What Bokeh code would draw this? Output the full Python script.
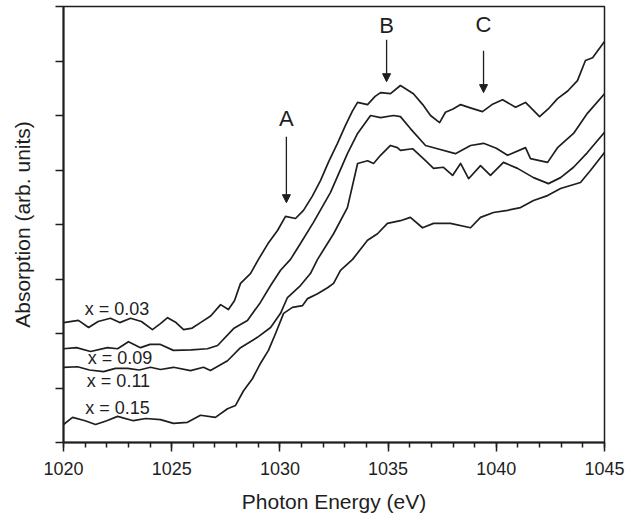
from bokeh.plotting import figure
from bokeh.models import Range1d, FixedTicker, Arrow, NormalHead, Label
from bokeh.embed import file_html
from bokeh.resources import INLINE

# ---- data (photon energy in eV, absorption in arb. units) ----
energy_003 = [1020.00, 1020.69, 1021.16, 1021.60, 1022.17, 1022.60, 1023.10, 1023.60, 1024.11, 1024.48,
              1024.81, 1025.20, 1025.55, 1025.95, 1026.33, 1026.80, 1027.26, 1027.62, 1027.90, 1028.18,
              1028.64, 1029.01, 1029.45, 1029.89, 1030.26, 1030.72, 1031.09, 1031.50, 1031.88, 1032.25,
              1032.66, 1033.03, 1033.35, 1033.59, 1034.05, 1034.40, 1034.65, 1035.11, 1035.57, 1036.17, 1036.60,
              1036.96, 1037.38, 1037.65, 1038.00, 1038.35, 1038.80, 1039.36, 1039.80, 1040.29, 1040.89,
              1041.35, 1042.00, 1042.40, 1042.83, 1043.30, 1043.75, 1044.12, 1044.45, 1045.00]
absorb_003 = [2.20, 2.24, 2.11, 2.22, 2.28, 2.20, 2.28, 2.22, 2.07, 2.18,
              2.29, 2.20, 2.07, 2.10, 2.20, 2.32, 2.53, 2.44, 2.60, 2.92,
              3.10, 3.36, 3.65, 3.89, 4.15, 4.11, 4.26, 4.52, 4.81, 5.15,
              5.49, 5.82, 6.08, 6.24, 6.20, 6.35, 6.42, 6.40, 6.55, 6.40, 6.20,
              6.00, 5.87, 6.06, 6.12, 6.20, 6.14, 6.07, 6.20, 6.29, 6.15,
              6.24, 5.98, 6.12, 6.31, 6.45, 6.64, 7.01, 7.06, 7.36]

energy_009 = [1020.00, 1020.60, 1021.25, 1022.03, 1022.50, 1023.00, 1023.56, 1024.00, 1024.48, 1025.08,
              1025.90, 1026.65, 1027.12, 1027.86, 1028.50, 1029.10, 1029.57, 1030.03, 1030.49, 1030.95,
              1031.55, 1032.34, 1033.12, 1033.59, 1034.19, 1034.65, 1035.25, 1035.57, 1036.03, 1036.73,
              1037.28, 1038.11, 1038.81, 1039.41, 1040.00, 1040.52, 1041.35, 1041.58, 1042.37, 1042.83,
              1043.57, 1044.21, 1045.00]
absorb_009 = [1.72, 1.74, 1.67, 1.74, 1.72, 1.85, 1.74, 1.80, 1.80, 1.69,
              1.70, 1.72, 1.78, 2.09, 2.24, 2.57, 2.88, 3.16, 3.36, 3.65,
              4.04, 4.59, 5.30, 5.67, 6.00, 5.96, 6.00, 5.98, 5.76, 5.45,
              5.39, 5.30, 5.45, 5.49, 5.40, 5.27, 5.41, 5.21, 5.14, 5.41,
              5.67, 6.04, 6.40]

energy_011 = [1020.00, 1020.65, 1021.20, 1021.85, 1022.40, 1022.96, 1023.50, 1024.02, 1024.48, 1025.08,
              1025.87, 1026.47, 1026.79, 1027.58, 1028.18, 1028.96, 1029.57, 1030.03, 1030.35, 1030.95,
              1031.41, 1031.74, 1032.48, 1033.12, 1033.59, 1034.05, 1034.33, 1034.65, 1035.11, 1035.43,
              1035.57, 1036.13, 1036.73, 1037.10, 1037.56, 1037.98, 1038.35, 1038.72, 1039.27, 1039.73,
              1040.33, 1040.98, 1041.72, 1042.41, 1042.97, 1043.57, 1044.21, 1045.00]
absorb_011 = [1.38, 1.39, 1.33, 1.30, 1.36, 1.36, 1.33, 1.38, 1.34, 1.38,
              1.32, 1.38, 1.32, 1.50, 1.74, 1.93, 2.11, 2.37, 2.66, 2.88,
              3.10, 3.36, 3.83, 4.31, 5.12, 5.17, 5.12, 5.27, 5.45, 5.41,
              5.36, 5.39, 5.17, 5.03, 5.05, 4.90, 5.12, 4.84, 5.08, 4.90,
              5.14, 5.03, 4.86, 4.75, 4.86, 5.05, 5.32, 5.69]

energy_015 = [1020.00, 1020.42, 1021.00, 1021.48, 1022.00, 1022.50, 1023.23, 1023.80, 1024.48, 1025.08,
              1025.73, 1026.33, 1027.02, 1027.58, 1027.95, 1028.32, 1028.73, 1029.10, 1029.47, 1029.80,
              1030.17, 1030.58, 1031.04, 1031.28, 1031.74, 1032.20, 1032.48, 1032.80, 1033.36, 1034.05,
              1034.51, 1034.97, 1035.57, 1036.03, 1036.59, 1037.10, 1037.88, 1038.81, 1039.27, 1039.87,
              1040.52, 1041.12, 1041.72, 1042.37, 1042.97, 1043.89, 1044.35, 1045.00]
absorb_015 = [0.33, 0.46, 0.40, 0.33, 0.40, 0.48, 0.40, 0.44, 0.42, 0.35,
              0.37, 0.50, 0.46, 0.62, 0.68, 0.95, 1.17, 1.45, 1.69, 2.00,
              2.37, 2.48, 2.51, 2.64, 2.73, 2.84, 2.92, 3.16, 3.36, 3.71,
              3.83, 4.02, 4.07, 4.13, 3.94, 4.02, 4.02, 3.94, 4.13, 4.22,
              4.26, 4.31, 4.44, 4.53, 4.66, 4.77, 4.99, 5.32]

series_labels = ["x = 0.03", "x = 0.09", "x = 0.11", "x = 0.15"]
series_label_x = [1022.47, 1022.61, 1022.54, 1022.50]
series_label_y = [2.45, 1.55, 1.12, 0.63]

peak_names = ["A", "B", "C"]
peak_x = [1030.30, 1034.93, 1039.41]
peak_text_y = [5.94, 7.65, 7.67]
peak_arrow_top = [5.61, 7.39, 7.19]
peak_arrow_bottom = [4.40, 6.62, 6.42]

x_major_ticks = [1020, 1025, 1030, 1035, 1040, 1045]
x_minor_ticks = list(range(1020, 1046))
y_ticks = [0, 1, 2, 3, 4, 5, 6, 7, 8]

FONT = "Liberation Sans"
INK = "#1e1e1e"

p = figure(width=626, height=517, output_backend="svg", toolbar_location=None,
           x_range=Range1d(1020, 1045), y_range=Range1d(0, 8),
           min_border_left=63, min_border_right=22, min_border_top=6, min_border_bottom=75)
p.grid.visible = False
p.background_fill_color = "white"
p.outline_line_color = INK
p.outline_line_width = 1.5

# x axis
p.xaxis.ticker = FixedTicker(ticks=x_major_ticks, minor_ticks=x_minor_ticks)
p.xaxis.axis_label = "Photon Energy (eV)"
p.xaxis.axis_label_text_font = FONT
p.xaxis.axis_label_text_font_style = "normal"
p.xaxis.axis_label_text_font_size = "21px"
p.xaxis.axis_label_text_color = INK
p.xaxis.axis_label_standoff = 12
p.xaxis.major_label_text_font = FONT
p.xaxis.major_label_text_font_size = "18px"
p.xaxis.major_label_text_color = INK
p.xaxis.major_label_standoff = 10
p.xaxis.axis_line_width = 2
p.xaxis.axis_line_color = INK
p.xaxis.major_tick_line_color = INK
p.xaxis.major_tick_line_width = 1.5
p.xaxis.major_tick_in = 0
p.xaxis.major_tick_out = 9
p.xaxis.minor_tick_line_color = INK
p.xaxis.minor_tick_line_width = 1.5
p.xaxis.minor_tick_in = 0
p.xaxis.minor_tick_out = 5

# y axis
p.yaxis.ticker = FixedTicker(ticks=y_ticks, minor_ticks=[])
p.yaxis.major_label_overrides = {t: "" for t in y_ticks}
p.yaxis.major_label_text_font_size = "1px"
p.yaxis.major_label_standoff = 0
p.yaxis.axis_label = "Absorption (arb. units)"
p.yaxis.axis_label_text_font = FONT
p.yaxis.axis_label_text_font_style = "normal"
p.yaxis.axis_label_text_font_size = "21px"
p.yaxis.axis_label_text_color = INK
p.yaxis.axis_label_standoff = 22
p.yaxis.axis_line_width = 2
p.yaxis.axis_line_color = INK
p.yaxis.major_tick_line_color = INK
p.yaxis.major_tick_line_width = 1.5
p.yaxis.major_tick_in = 0
p.yaxis.major_tick_out = 8

curves = [(energy_003, absorb_003), (energy_009, absorb_009),
          (energy_011, absorb_011), (energy_015, absorb_015)]
for (ex, ay) in curves:
    p.line(ex, ay, line_color=INK, line_width=1.7, line_join="round")

for txt, lx, ly in zip(series_labels, series_label_x, series_label_y):
    p.add_layout(Label(x=lx, y=ly, text=txt, text_font=FONT, text_font_size="18px",
                       text_color=INK, text_align="center", text_baseline="middle"))

for name, px, ty, at, ab in zip(peak_names, peak_x, peak_text_y, peak_arrow_top, peak_arrow_bottom):
    p.add_layout(Label(x=px, y=ty, text=name, text_font=FONT, text_font_size="22px",
                       text_color=INK, text_align="center", text_baseline="middle"))
    p.add_layout(Arrow(end=NormalHead(size=8, fill_color=INK, line_color=INK, line_width=1),
                       x_start=px, y_start=at, x_end=px, y_end=ab,
                       line_color=INK, line_width=1.3))

open("out.html", "w").write(file_html(p, INLINE))
